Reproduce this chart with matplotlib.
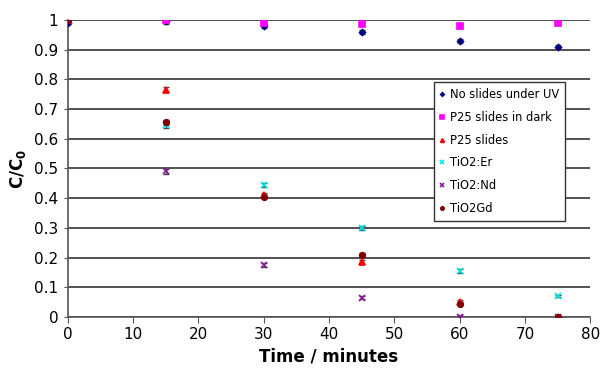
import numpy as np
from matplotlib import pyplot as plt

time_min = [0, 15, 30, 45, 60, 75]

no_slides_uv = [0.99, 0.995, 0.98, 0.96, 0.93, 0.91]
p25_dark = [1.0, 1.0, 0.99, 0.985, 0.98, 0.99]
p25_slides = [1.0, 0.765, 0.41, 0.185, 0.05, 0.0]
tio2_er = [1.0, 0.645, 0.445, 0.30, 0.155, 0.07]
tio2_nd = [1.0, 0.49, 0.175, 0.065, 0.0, 0.0]
tio2_gd = [1.0, 0.655, 0.405, 0.21, 0.045, 0.0]
err = [0.005, 0.008, 0.006, 0.006, 0.006, 0.004]

series = [
	("No slides under UV", no_slides_uv, 'D', '#000080', 3),
	("P25 slides in dark", p25_dark, 's', '#ff00ff', 4),
	("P25 slides", p25_slides, '^', '#ff0000', 4.5),
	("TiO2:Er", tio2_er, 'x', '#00e5e5', 4),
	("TiO2:Nd", tio2_nd, 'x', '#8b1a9b', 4),
	("TiO2Gd", tio2_gd, 'o', '#800000', 4),
]

fig = plt.figure(figsize=(6.01, 3.69), dpi=100)
ax = fig.add_axes([0.113, 0.141, 0.869, 0.805])

for label, vals, m, c, ms in series:
	ax.errorbar(time_min, vals, yerr=err, fmt='none', ecolor='#444444',
		elinewidth=0.8, capsize=2, zorder=2)
	ax.plot(time_min, vals, m, color=c, ms=ms, mew=1.2, label=label, zorder=3)

ax.set_xlim(0, 80)
ax.set_ylim(0, 1)
ax.set_xticks(np.arange(0, 81, 10))
ax.set_yticks(np.arange(0, 1.01, 0.1))
ax.set_yticklabels(['0', '0.1', '0.2', '0.3', '0.4', '0.5', '0.6', '0.7', '0.8', '0.9', '1'])
ax.yaxis.grid(True, color='#333333', linewidth=1.2)
ax.set_axisbelow(True)
for s in ['top', 'right']:
	ax.spines[s].set_visible(False)
for s in ['left', 'bottom']:
	ax.spines[s].set_color('#555555')
	ax.spines[s].set_linewidth(1.2)
ax.tick_params(axis='x', direction='out', length=4, labelsize=11, pad=3, color='#555555')
ax.tick_params(axis='y', direction='out', length=3, labelsize=11, pad=4, color='#555555')

ax.set_xlabel('Time / minutes', fontsize=12, fontweight='bold')
ax.set_ylabel('C/C$_\\mathbf{0}$', fontsize=12, fontweight='bold')

leg = ax.legend(loc='upper left', bbox_to_anchor=(0.7, 0.79), borderaxespad=0,
	fontsize=8.3, frameon=True, fancybox=False, edgecolor='#333333', framealpha=1,
	handlelength=0.5, handletextpad=0.4, labelspacing=0.85, borderpad=0.5,
	markerscale=0.6)
leg.get_frame().set_linewidth(1.0)

fig.savefig('out.png', dpi=100)
